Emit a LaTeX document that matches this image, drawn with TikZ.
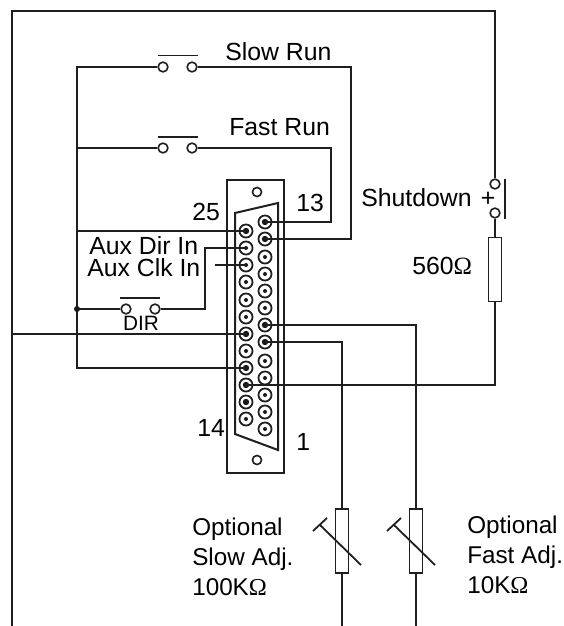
\documentclass[tikz,border=0pt]{standalone}
\usepackage{fontspec}
\setmainfont{Liberation Sans}
\newfontfamily\omegafont{Liberation Serif}
\usetikzlibrary{calc}
\newcommand{\ohm}{{\omegafont Ω}}
\tikzset{
  x=0.75pt,y=-0.75pt,
  wire/.style={line width=1.35pt,draw=black!88},
  bodyline/.style={line width=1.5pt,draw=black!88},
  lab/.style={font=\fontsize{18.6pt}{18.6pt}\selectfont,inner sep=0pt,text=black},
  optlab/.style={lab,anchor=west,align=left,font=\fontsize{18.2pt}{22.5pt}\selectfont},
  contact/.style={circle,draw=black!88,line width=1.2pt,fill=white,minimum size=7.3pt,inner sep=0pt},
  hole/.style={circle,draw=black!88,line width=1.2pt,fill=white,minimum size=6.8pt,inner sep=0pt},
  pinbase/.style={circle,draw=black!88,line width=1.35pt,fill=white,minimum size=9.8pt,inner sep=0pt},
  res/.style={draw=black!88,line width=1.2pt,fill=white,minimum width=10pt,inner sep=0pt},
}
\newcommand{\mypin}[3]{%
  \node[pinbase] (#1) at #2 {};
  \fill[black!90] (#1.center) circle[radius=#3];
}
\begin{document}
\begin{tikzpicture}
\useasboundingbox (0,0) rectangle (564,626);
% connector body
\draw[bodyline] (227,180) rectangle (284,473);
\node[hole] (h1) at (257,192) {};
\node[hole] (h2) at (257,460) {};
\draw[bodyline,line join=miter] (235,434) -- (235,213) -- (278,203) -- (278,450) -- cycle;
% pins left
\foreach \i/\y/\r in {14/419/2,15/402/3.2,16/385/3.2,17/368/3.2,18/351/2,19/334/3.2,20/317/2,21/300/2,22/282/2,23/265/2,24/248/2,25/231/3.2}{
  \mypin{p\i}{(246,\y)}{\r}
}
\foreach \i/\y/\r in {1/429/2,2/412/2,3/395/2,4/378/2,5/361/2,6/342/3.2,7/325/3.2,8/308/2,9/291/2,10/274/2,11/257/2,12/239/3.2,13/222/3.2}{
  \mypin{p\i}{(265,\y)}{\r}
}
% switches
\node[contact] (sa) at (163,67) {};
\node[contact] (sb) at (192,67) {};
\node[contact] (fa) at (163,148) {};
\node[contact] (fb) at (192,148) {};
\node[contact] (da) at (126,309) {};
\node[contact] (db) at (155,309) {};
\node[contact] (xa) at (495,184) {};
\node[contact] (xb) at (495,213) {};
\coordinate (sl) at (158,55.5); \coordinate (sr) at (198,55.5);
\coordinate (fl) at (158,137); \coordinate (fr) at (198,137);
\coordinate (dl) at (120,298); \coordinate (dr) at (160,298);
\coordinate (xt) at (505,179); \coordinate (xe) at (505,219);
\draw[wire] (sl)--(sr);
\draw[wire] (fl)--(fr);
\draw[wire] (dl)--(dr);
\draw[wire] (xt)--(xe);
% resistors
\node[res,minimum height=48pt] (r1) at (495,269.5) {};
\node[res,minimum height=48pt] (r2) at (342,541) {};
\node[res,minimum height=48pt] (r3) at (416,541) {};
% free ends and corners
\coordinate (bl) at (12,626);
\coordinate (tl) at (12,11);
\coordinate (tr) at (495,11);
\coordinate (bus) at (77,67);
\coordinate (j) at (77,309);
\coordinate (busend) at (77,368);
\coordinate (c1) at (351,67);
\coordinate (c2) at (331,148);
\coordinate (c3) at (205,248);
\coordinate (clk) at (215,265);
\coordinate (gnd) at (12,334);
\coordinate (e2) at (342,626);
\coordinate (e3) at (416,626);
% wires
\draw[wire] (bl)--(tl)--(tr)--(xa);
\draw[wire] (xb)--(r1);
\draw[wire] (r1)|-(p16.center);
\draw[wire] (sb)-|(c1)|-(p12.center);
\draw[wire] (fb)-|(c2)|-(p13.center);
\draw[wire] (sa)--(bus)--(busend)--(p17.center);
\draw[wire] (fa)--(77,148);
\draw[wire] (77,231)--(p25.center);
\draw[wire] (p24.center)-|(c3)|-(db);
\draw[wire] (da)--(j);
\fill[black!90] (j) circle[radius=3];
\draw[wire] (clk)--(p23.center);
\draw[wire] (gnd)--(p19.center);
\draw[wire] (p6.center)-|(r2);
\draw[wire] (p7.center)-|(r3);
\draw[wire] (r2)--(e2);
\draw[wire] (r3)--(e3);
% variable marks
\foreach \dx in {0,74}{
  \draw[wire] (313+\dx,531)--(327+\dx,518);
  \draw[wire] (320+\dx,525)--(361+\dx,565);
}
% labels
\node[lab,anchor=west] (t1) at (225,52) {Slow Run};
\node[lab,anchor=west] (t2) at (229,127) {Fast Run};
\node[lab,anchor=west] (t3) at (361,198) {Shutdown};
\node[lab,anchor=center] (t4) at (488,199) {+};
\node[lab,anchor=west] (t5) at (192,212) {25};
\node[lab,anchor=west] (t6) at (296,203) {13};
\node[lab,anchor=west] (t7) at (89,245.5) {Aux Dir In};
\node[lab,anchor=west] (t8) at (87,268) {Aux Clk In};
\node[lab,anchor=west] (t9) at (412,266) {560\ohm};
\node[lab,anchor=center,font=\fontsize{15.6pt}{15.6pt}\selectfont] (t10) at (141,323) {DIR};
\node[lab,anchor=west] (t11) at (197,428) {14};
\node[lab,anchor=west] (t12) at (296,442) {1};
\node[optlab] (t13) at (192,557) {Optional\\Slow Adj.\\100K\ohm};
\node[optlab] (t14) at (467,555) {Optional\\Fast Adj.\\10K\ohm};
\end{tikzpicture}
\end{document}
